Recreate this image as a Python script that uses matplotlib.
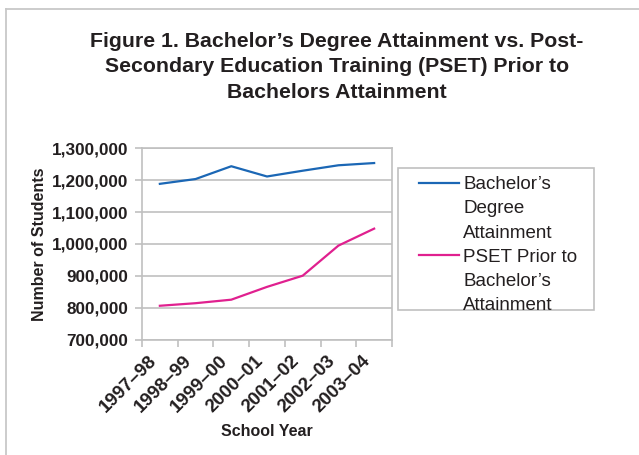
import matplotlib
matplotlib.use("Agg")
import matplotlib.pyplot as plt
from matplotlib.lines import Line2D
from matplotlib.patches import Rectangle
from matplotlib.ticker import FuncFormatter, FixedLocator
import numpy as np

plt.rcParams['font.family'] = ['Liberation Sans', 'DejaVu Sans']

years = ["1997\u201398", "1998\u201399", "1999\u201300", "2000\u201301",
         "2001\u201302", "2002\u201303", "2003\u201304"]
bachelors = [1188000, 1203000, 1243000, 1211000, 1229000, 1246000, 1253000]
pset = [807000, 815000, 826000, 866000, 901000, 995000, 1048000]
series_labels = ["Bachelor\u2019s\nDegree\nAttainment",
                 "PSET Prior to\nBachelor\u2019s\nAttainment"]
title = ("Figure 1. Bachelor\u2019s Degree Attainment vs. Post-\n"
         "Secondary Education Training (PSET) Prior to\n"
         "Bachelors Attainment")

W, H = 639, 455
fig = plt.figure(figsize=(W / 100, H / 100), dpi=100)

# outer border (top and left only visible)
fig.add_artist(Line2D([6 / W, 1], [1 - 9 / H, 1 - 9 / H], color="#c8c8c8", lw=1.3))
fig.add_artist(Line2D([6 / W, 6 / W], [0, 1 - 9 / H], color="#c8c8c8", lw=1.3))

fig.text(337 / W, 1 - 32 / H, title, ha="center", va="top", fontsize=15.3,
         fontweight="bold", color="#231f20", linespacing=1.42)

ax = fig.add_axes([142 / W, 1 - 340 / H, 250 / W, 192 / H])
x = np.arange(len(years))
c_blue = "#1b67b5"
c_pink = "#e0208f"
ax.plot(x, bachelors, color=c_blue, lw=1.6)
ax.plot(x, pset, color=c_pink, lw=1.6)

ax.set_xlim(-0.5, len(years) - 0.5)
ax.set_ylim(700000, 1300000)
ax.set_yticks(np.arange(700000, 1300001, 100000))
ax.yaxis.set_major_formatter(FuncFormatter(lambda v, p: f"{int(v):,}"))
ax.grid(axis="y", color="#c0c0c0", lw=1.2)
ax.set_axisbelow(True)
for s in ax.spines.values():
    s.set_color("#c0c0c0")
    s.set_linewidth(1.2)

ax.set_xticks(x)
ax.set_xticklabels(years, rotation=45, ha="right", fontsize=13.5, fontweight="bold",
                   color="#231f20")
ax.xaxis.set_minor_locator(FixedLocator(np.arange(-0.5, len(years), 1.0)))
ax.tick_params(axis="x", which="major", length=0, pad=9)
ax.tick_params(axis="x", which="minor", length=5, color="#c0c0c0", width=1.2)
ax.tick_params(axis="y", length=5, color="#c0c0c0", width=1.2, pad=5,
               labelsize=12.3, labelcolor="#231f20")
for t in ax.get_yticklabels():
    t.set_fontweight("bold")

ax.set_xlabel("School Year", fontsize=11.5, fontweight="bold", color="#231f20",
              labelpad=6)
ax.set_ylabel("Number of Students", fontsize=11.5, fontweight="bold",
              color="#231f20", labelpad=3)

# legend frame
fig.add_artist(Rectangle((398 / W, 1 - 310 / H), 196 / W, 142 / H,
                         transform=fig.transFigure, facecolor="white",
                         edgecolor="#c0c0c0", lw=1.2))
# legend: one row per text line so each handle sits on the first line
handles, labels = [], []
for color, lab in zip([c_blue, c_pink], series_labels):
    lines = lab.split("\n")
    for i, ln in enumerate(lines):
        handles.append(Line2D([], [], color=color if i == 0 else "none", lw=1.6))
        labels.append(ln)
leg = fig.legend(handles, labels, loc="upper left",
                 bbox_to_anchor=(419 / W, 1 - 176 / H), borderaxespad=0,
                 fontsize=13.5, frameon=False, handlelength=2.15,
                 handletextpad=0.2, labelspacing=0.38, borderpad=0)
for t in leg.get_texts():
    t.set_color("#231f20")

fig.savefig("out.png", dpi=100)
